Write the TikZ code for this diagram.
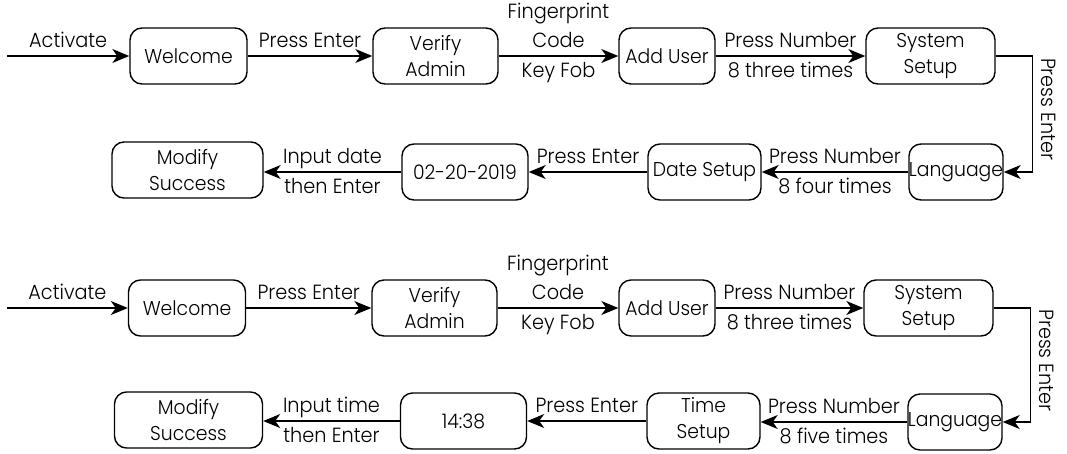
\documentclass[tikz,border=0pt]{standalone}
\usepackage{fontspec}
\setmainfont{Poppins}[UprightFont={* Light}, FakeStretch=0.94]
\usetikzlibrary{arrows.meta}
\begin{document}
\begin{tikzpicture}[x=1pt,y=-1pt,
  box/.style={draw, line width=1.4pt, rounded corners=12pt, minimum height=56pt,
    align=center, inner sep=0pt, font=\fontsize{20}{26}\selectfont},
  conn/.style={line width=1.4pt, -{Stealth[length=17pt,width=14pt,inset=5pt]}},
  lbl/.style={font=\fontsize{20.5}{29}\selectfont, inner sep=3pt, text height=18pt, text depth=5pt, align=center}]
\useasboundingbox (0,0) rectangle (1067,453);
% ---------- top diagram ----------
\coordinate (st1) at (7,56);
\node[box, minimum width=117pt] (w1) at (188.5,56) {Welcome};
\node[box, minimum width=125pt] (v1) at (435.5,56) {Verify\\Admin};
\node[box, minimum width=96pt]  (a1) at (667,56) {\makebox[0pt]{Add User}};
\node[box, minimum width=129pt] (s1) at (930.5,56) {System\\Setup};
\node[box, minimum width=94pt]  (l1) at (956,172) {\makebox[0pt]{Language}};
\node[box, minimum width=113pt] (d1) at (704.5,172) {\makebox[0pt]{Date Setup}};
\node[box, minimum width=126pt] (n1) at (465,172) {\makebox[0pt]{02-20-2019}};
\node[box, minimum width=151pt] (m1) at (187.5,170) {Modify\\Success};
\draw[conn] (st1) -- node[lbl, above] {Activate} (w1);
\draw[conn] (w1) -- node[lbl, above] {Press Enter} (v1);
\draw[conn] (v1) -- node[lbl, above] {Fingerprint\\Code} node[lbl, below] {Key Fob} (a1);
\draw[conn] (a1) -- node[lbl, above] {Press Number} node[lbl, below] {8 three times} (s1);
\draw[conn] (s1.east) -- ++(37,0) |- node[lbl, pos=0.23, rotate=-90, anchor=south] {Press Enter} (l1.east);
\draw[conn] (l1) -- node[lbl, above] {Press Number} node[lbl, below] {8 four times} (d1);
\draw[conn] (d1) -- node[lbl, above] {Press Enter} (n1);
\draw[conn] (n1) -- node[lbl, above] {Input date} node[lbl, below] {then Enter} (m1.east |- n1);
% ---------- bottom diagram ----------
\coordinate (st2) at (7,308);
\node[box, minimum width=117pt] (w2) at (187,308) {Welcome};
\node[box, minimum width=125pt] (v2) at (434.5,308) {Verify\\Admin};
\node[box, minimum width=96pt]  (a2) at (667,308) {\makebox[0pt]{Add User}};
\node[box, minimum width=129pt] (s2) at (928.5,308) {System\\Setup};
\node[box, minimum width=94pt]  (l2) at (955,422) {\makebox[0pt]{Language}};
\node[box, minimum width=113pt] (d2) at (703.5,421) {Time\\Setup};
\node[box, minimum width=126pt] (n2) at (463.5,421) {14:38};
\node[box, minimum width=148pt] (m2) at (188.5,420) {Modify\\Success};
\draw[conn] (st2) -- node[lbl, above] {Activate} (w2);
\draw[conn] (w2) -- node[lbl, above] {Press Enter} (v2);
\draw[conn] (v2) -- node[lbl, above] {Fingerprint\\Code} node[lbl, below] {Key Fob} (a2);
\draw[conn] (a2) -- node[lbl, above] {Press Number} node[lbl, below] {8 three times} (s2);
\draw[conn] (s2.east) -- ++(37,0) |- node[lbl, pos=0.23, rotate=-90, anchor=south] {Press Enter} (l2.east);
\draw[conn] (l2) -- node[lbl, above] {Press Number} node[lbl, below] {8 five times} (d2.east |- l2);
\draw[conn] (d2) -- node[lbl, above] {Press Enter} (n2);
\draw[conn] (n2) -- node[lbl, above] {Input time} node[lbl, below] {then Enter} (m2.east |- n2);
\end{tikzpicture}
\end{document}
